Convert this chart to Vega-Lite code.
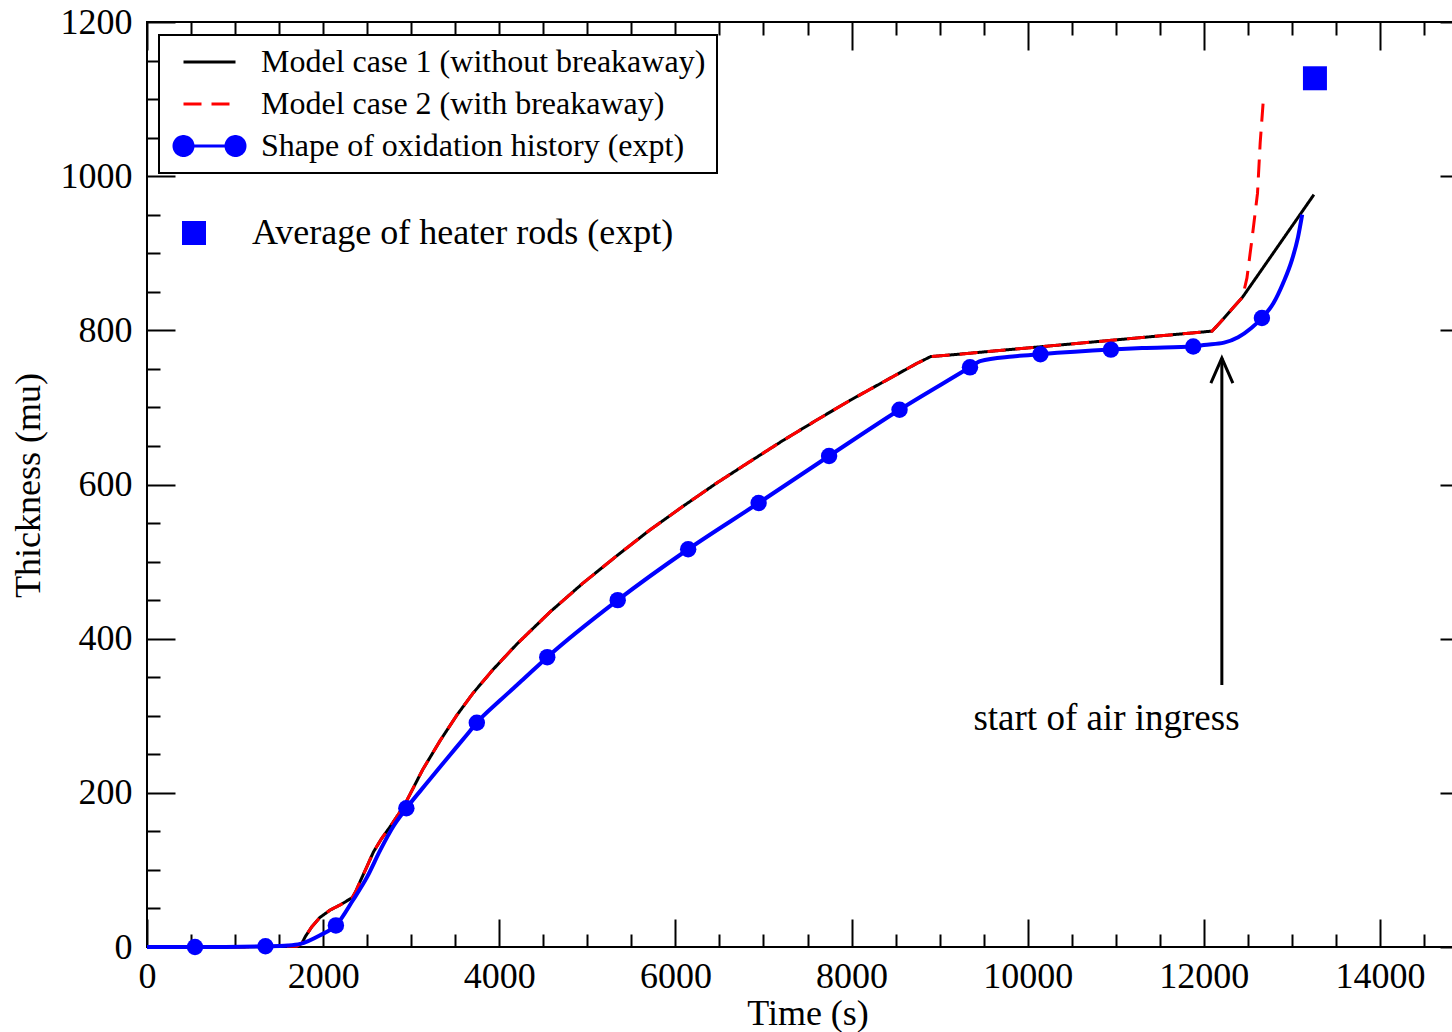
{
  "$schema": "https://vega.github.io/schema/vega-lite/v6.json",
  "width": 1321,
  "height": 925,
  "autosize": "none",
  "padding": {"left": 147, "top": 22, "right": -16, "bottom": 85},
  "background": "white",
  "config": {
    "view": {"stroke": "black", "strokeWidth": 2},
    "axis": {"domain": false, "grid": false, "tickColor": "black", "tickWidth": 2, "labelFont": "Liberation Serif", "labelFontSize": 36, "labelColor": "black", "titleFont": "Liberation Serif", "titleFontSize": 36, "titleFontWeight": "normal", "titleColor": "black", "labelFlush": false, "labelOverlap": false, "labelBound": false}
  },
  "datasets": {
    "model": [
      {"series": "Model case 1 (without breakaway)", "t": 0, "thk": 0},
      {"series": "Model case 1 (without breakaway)", "t": 1000, "thk": 0},
      {"series": "Model case 1 (without breakaway)", "t": 1700, "thk": 1},
      {"series": "Model case 1 (without breakaway)", "t": 1760, "thk": 5},
      {"series": "Model case 1 (without breakaway)", "t": 1800, "thk": 14},
      {"series": "Model case 1 (without breakaway)", "t": 1870, "thk": 26},
      {"series": "Model case 1 (without breakaway)", "t": 1960, "thk": 38},
      {"series": "Model case 1 (without breakaway)", "t": 2080, "thk": 48},
      {"series": "Model case 1 (without breakaway)", "t": 2200, "thk": 55},
      {"series": "Model case 1 (without breakaway)", "t": 2330, "thk": 64},
      {"series": "Model case 1 (without breakaway)", "t": 2370, "thk": 72},
      {"series": "Model case 1 (without breakaway)", "t": 2420, "thk": 85},
      {"series": "Model case 1 (without breakaway)", "t": 2500, "thk": 105},
      {"series": "Model case 1 (without breakaway)", "t": 2570, "thk": 123},
      {"series": "Model case 1 (without breakaway)", "t": 2660, "thk": 140},
      {"series": "Model case 1 (without breakaway)", "t": 2760, "thk": 156},
      {"series": "Model case 1 (without breakaway)", "t": 2860, "thk": 173},
      {"series": "Model case 1 (without breakaway)", "t": 2950, "thk": 190},
      {"series": "Model case 1 (without breakaway)", "t": 3130, "thk": 230},
      {"series": "Model case 1 (without breakaway)", "t": 3330, "thk": 268},
      {"series": "Model case 1 (without breakaway)", "t": 3520, "thk": 301},
      {"series": "Model case 1 (without breakaway)", "t": 3700, "thk": 329},
      {"series": "Model case 1 (without breakaway)", "t": 3930, "thk": 360},
      {"series": "Model case 1 (without breakaway)", "t": 4200, "thk": 393},
      {"series": "Model case 1 (without breakaway)", "t": 4580, "thk": 435},
      {"series": "Model case 1 (without breakaway)", "t": 4950, "thk": 472},
      {"series": "Model case 1 (without breakaway)", "t": 5340, "thk": 508},
      {"series": "Model case 1 (without breakaway)", "t": 5710, "thk": 541},
      {"series": "Model case 1 (without breakaway)", "t": 6090, "thk": 572},
      {"series": "Model case 1 (without breakaway)", "t": 6470, "thk": 602},
      {"series": "Model case 1 (without breakaway)", "t": 6850, "thk": 630},
      {"series": "Model case 1 (without breakaway)", "t": 7220, "thk": 657},
      {"series": "Model case 1 (without breakaway)", "t": 7610, "thk": 684},
      {"series": "Model case 1 (without breakaway)", "t": 7980, "thk": 709},
      {"series": "Model case 1 (without breakaway)", "t": 8360, "thk": 733},
      {"series": "Model case 1 (without breakaway)", "t": 8740, "thk": 757},
      {"series": "Model case 1 (without breakaway)", "t": 8900, "thk": 766},
      {"series": "Model case 1 (without breakaway)", "t": 9120, "thk": 768},
      {"series": "Model case 1 (without breakaway)", "t": 12095, "thk": 799},
      {"series": "Model case 1 (without breakaway)", "t": 12200, "thk": 812},
      {"series": "Model case 1 (without breakaway)", "t": 12330, "thk": 829},
      {"series": "Model case 1 (without breakaway)", "t": 12440, "thk": 843},
      {"series": "Model case 1 (without breakaway)", "t": 13250, "thk": 976},
      {"series": "Model case 2 (with breakaway)", "t": 0, "thk": 0},
      {"series": "Model case 2 (with breakaway)", "t": 1000, "thk": 0},
      {"series": "Model case 2 (with breakaway)", "t": 1700, "thk": 1},
      {"series": "Model case 2 (with breakaway)", "t": 1760, "thk": 5},
      {"series": "Model case 2 (with breakaway)", "t": 1800, "thk": 14},
      {"series": "Model case 2 (with breakaway)", "t": 1870, "thk": 26},
      {"series": "Model case 2 (with breakaway)", "t": 1960, "thk": 38},
      {"series": "Model case 2 (with breakaway)", "t": 2080, "thk": 48},
      {"series": "Model case 2 (with breakaway)", "t": 2200, "thk": 55},
      {"series": "Model case 2 (with breakaway)", "t": 2330, "thk": 64},
      {"series": "Model case 2 (with breakaway)", "t": 2370, "thk": 72},
      {"series": "Model case 2 (with breakaway)", "t": 2420, "thk": 85},
      {"series": "Model case 2 (with breakaway)", "t": 2500, "thk": 105},
      {"series": "Model case 2 (with breakaway)", "t": 2570, "thk": 123},
      {"series": "Model case 2 (with breakaway)", "t": 2660, "thk": 140},
      {"series": "Model case 2 (with breakaway)", "t": 2760, "thk": 156},
      {"series": "Model case 2 (with breakaway)", "t": 2860, "thk": 173},
      {"series": "Model case 2 (with breakaway)", "t": 2950, "thk": 190},
      {"series": "Model case 2 (with breakaway)", "t": 3130, "thk": 230},
      {"series": "Model case 2 (with breakaway)", "t": 3330, "thk": 268},
      {"series": "Model case 2 (with breakaway)", "t": 3520, "thk": 301},
      {"series": "Model case 2 (with breakaway)", "t": 3700, "thk": 329},
      {"series": "Model case 2 (with breakaway)", "t": 3930, "thk": 360},
      {"series": "Model case 2 (with breakaway)", "t": 4200, "thk": 393},
      {"series": "Model case 2 (with breakaway)", "t": 4580, "thk": 435},
      {"series": "Model case 2 (with breakaway)", "t": 4950, "thk": 472},
      {"series": "Model case 2 (with breakaway)", "t": 5340, "thk": 508},
      {"series": "Model case 2 (with breakaway)", "t": 5710, "thk": 541},
      {"series": "Model case 2 (with breakaway)", "t": 6090, "thk": 572},
      {"series": "Model case 2 (with breakaway)", "t": 6470, "thk": 602},
      {"series": "Model case 2 (with breakaway)", "t": 6850, "thk": 630},
      {"series": "Model case 2 (with breakaway)", "t": 7220, "thk": 657},
      {"series": "Model case 2 (with breakaway)", "t": 7610, "thk": 684},
      {"series": "Model case 2 (with breakaway)", "t": 7980, "thk": 709},
      {"series": "Model case 2 (with breakaway)", "t": 8360, "thk": 733},
      {"series": "Model case 2 (with breakaway)", "t": 8740, "thk": 757},
      {"series": "Model case 2 (with breakaway)", "t": 8900, "thk": 766},
      {"series": "Model case 2 (with breakaway)", "t": 9120, "thk": 768},
      {"series": "Model case 2 (with breakaway)", "t": 12095, "thk": 799},
      {"series": "Model case 2 (with breakaway)", "t": 12200, "thk": 812},
      {"series": "Model case 2 (with breakaway)", "t": 12330, "thk": 829},
      {"series": "Model case 2 (with breakaway)", "t": 12440, "thk": 843},
      {"series": "Model case 2 (with breakaway)", "t": 12490, "thk": 868},
      {"series": "Model case 2 (with breakaway)", "t": 12550, "thk": 921},
      {"series": "Model case 2 (with breakaway)", "t": 12610, "thk": 978},
      {"series": "Model case 2 (with breakaway)", "t": 12640, "thk": 1043},
      {"series": "Model case 2 (with breakaway)", "t": 12680, "thk": 1105}
    ],
    "expt": [
      {"series": "Shape of oxidation history (expt)", "t": 0, "thk": 0},
      {"series": "Shape of oxidation history (expt)", "t": 545, "thk": 0},
      {"series": "Shape of oxidation history (expt)", "t": 1345, "thk": 1},
      {"series": "Shape of oxidation history (expt)", "t": 1600, "thk": 2},
      {"series": "Shape of oxidation history (expt)", "t": 1740, "thk": 4},
      {"series": "Shape of oxidation history (expt)", "t": 1960, "thk": 15},
      {"series": "Shape of oxidation history (expt)", "t": 2145, "thk": 28},
      {"series": "Shape of oxidation history (expt)", "t": 2340, "thk": 61},
      {"series": "Shape of oxidation history (expt)", "t": 2500, "thk": 91},
      {"series": "Shape of oxidation history (expt)", "t": 2650, "thk": 126},
      {"series": "Shape of oxidation history (expt)", "t": 2800, "thk": 157},
      {"series": "Shape of oxidation history (expt)", "t": 2945, "thk": 180},
      {"series": "Shape of oxidation history (expt)", "t": 3180, "thk": 213},
      {"series": "Shape of oxidation history (expt)", "t": 3410, "thk": 245},
      {"series": "Shape of oxidation history (expt)", "t": 3630, "thk": 275},
      {"series": "Shape of oxidation history (expt)", "t": 3745, "thk": 291},
      {"series": "Shape of oxidation history (expt)", "t": 4010, "thk": 320},
      {"series": "Shape of oxidation history (expt)", "t": 4270, "thk": 347},
      {"series": "Shape of oxidation history (expt)", "t": 4545, "thk": 376},
      {"series": "Shape of oxidation history (expt)", "t": 5345, "thk": 450},
      {"series": "Shape of oxidation history (expt)", "t": 6145, "thk": 516},
      {"series": "Shape of oxidation history (expt)", "t": 6945, "thk": 576},
      {"series": "Shape of oxidation history (expt)", "t": 7745, "thk": 637},
      {"series": "Shape of oxidation history (expt)", "t": 8545, "thk": 697},
      {"series": "Shape of oxidation history (expt)", "t": 9345, "thk": 752},
      {"series": "Shape of oxidation history (expt)", "t": 9460, "thk": 760},
      {"series": "Shape of oxidation history (expt)", "t": 9830, "thk": 766},
      {"series": "Shape of oxidation history (expt)", "t": 10145, "thk": 769},
      {"series": "Shape of oxidation history (expt)", "t": 10945, "thk": 775},
      {"series": "Shape of oxidation history (expt)", "t": 11300, "thk": 777},
      {"series": "Shape of oxidation history (expt)", "t": 11880, "thk": 779},
      {"series": "Shape of oxidation history (expt)", "t": 12000, "thk": 781},
      {"series": "Shape of oxidation history (expt)", "t": 12230, "thk": 784},
      {"series": "Shape of oxidation history (expt)", "t": 12390, "thk": 791},
      {"series": "Shape of oxidation history (expt)", "t": 12540, "thk": 803},
      {"series": "Shape of oxidation history (expt)", "t": 12660, "thk": 816},
      {"series": "Shape of oxidation history (expt)", "t": 12790, "thk": 835},
      {"series": "Shape of oxidation history (expt)", "t": 12900, "thk": 861},
      {"series": "Shape of oxidation history (expt)", "t": 13000, "thk": 891},
      {"series": "Shape of oxidation history (expt)", "t": 13070, "thk": 921},
      {"series": "Shape of oxidation history (expt)", "t": 13117, "thk": 950}
    ],
    "markers": [
      {"t": 545, "thk": 0}, {"t": 1345, "thk": 1}, {"t": 2145, "thk": 28}, {"t": 2945, "thk": 180},
      {"t": 3745, "thk": 291}, {"t": 4545, "thk": 376}, {"t": 5345, "thk": 450}, {"t": 6145, "thk": 516},
      {"t": 6945, "thk": 576}, {"t": 7745, "thk": 637}, {"t": 8545, "thk": 697}, {"t": 9345, "thk": 752},
      {"t": 10145, "thk": 769}, {"t": 10945, "thk": 775}, {"t": 11880, "thk": 779}, {"t": 12660, "thk": 816}
    ],
    "rods": [{"kind": "Average of heater rods (expt)", "t": 13262, "thk": 1127}],
    "arrow": [{"t": 12205, "from": 340, "to": 764}],
    "note": [{"t": 10895, "thk": 281, "label": "start of air ingress"}]
  },
  "resolve": {"axis": {"x": "independent", "y": "independent"}},
  "layer": [
    {
      "data": {"name": "model"},
      "mark": {"type": "line", "strokeWidth": 3},
      "encoding": {
        "x": {"field": "t", "type": "quantitative", "scale": {"domain": [0, 15000], "nice": false, "zero": false},
          "axis": {"orient": "bottom", "values": [0, 2000, 4000, 6000, 8000, 10000, 12000, 14000], "format": "d", "tickSize": -28, "labelPadding": 68, "labelBaseline": "alphabetic", "title": "Time (s)", "titleBaseline": "alphabetic", "titleY": 77}},
        "y": {"field": "thk", "type": "quantitative", "scale": {"domain": [0, 1200], "nice": false, "zero": false},
          "axis": {"orient": "left", "values": [0, 200, 400, 600, 800, 1000, 1200], "format": "d", "tickSize": -28, "labelPadding": 43, "title": "Thickness (mu)", "titleAngle": 270, "titleX": -108, "titleY": 463, "titleBaseline": "alphabetic", "titleAlign": "center"}},
        "color": {"field": "series", "type": "nominal",
          "scale": {"domain": ["Model case 1 (without breakaway)", "Model case 2 (with breakaway)", "Shape of oxidation history (expt)"], "range": ["black", "red", "blue"]},
          "legend": {"orient": "none", "legendX": 12, "legendY": 13, "title": null, "padding": 11, "strokeColor": "black", "fillColor": "white", "labelFont": "Liberation Serif", "labelFontSize": 32, "labelColor": "black", "labelLimit": 1000, "symbolType": "stroke", "symbolSize": 2704, "symbolStrokeWidth": 3, "symbolOpacity": 1, "symbolOffset": 12, "labelOffset": 24, "rowPadding": 10, "clipHeight": 32,
            "encode": {"legend": {"update": {"strokeWidth": {"value": 2}}}, "symbols": {"update": {
              "shape": {"signal": "datum.value === 'Shape of oxidation history (expt)' ? 'M-1,0L1,0M-1.365,0A0.365,0.365,0,1,0,-0.635,0A0.365,0.365,0,1,0,-1.365,0ZM0.635,0A0.365,0.365,0,1,0,1.365,0A0.365,0.365,0,1,0,0.635,0Z' : 'stroke'"},
              "fill": {"signal": "datum.value === 'Shape of oxidation history (expt)' ? 'blue' : 'transparent'"}}}}}},
        "strokeDash": {"field": "series", "type": "nominal",
          "scale": {"domain": ["Model case 1 (without breakaway)", "Model case 2 (with breakaway)", "Shape of oxidation history (expt)"], "range": [[1, 0], [18, 10], [1, 0]]},
          "legend": {"orient": "none", "legendX": 12, "legendY": 13, "title": null, "padding": 11, "strokeColor": "black", "fillColor": "white", "labelFont": "Liberation Serif", "labelFontSize": 32, "labelColor": "black", "labelLimit": 1000, "symbolType": "stroke", "symbolSize": 2704, "symbolStrokeWidth": 3, "symbolOpacity": 1, "symbolOffset": 12, "labelOffset": 24, "rowPadding": 10, "clipHeight": 32,
            "encode": {"legend": {"update": {"strokeWidth": {"value": 2}}}, "symbols": {"update": {
              "shape": {"signal": "datum.value === 'Shape of oxidation history (expt)' ? 'M-1,0L1,0M-1.365,0A0.365,0.365,0,1,0,-0.635,0A0.365,0.365,0,1,0,-1.365,0ZM0.635,0A0.365,0.365,0,1,0,1.365,0A0.365,0.365,0,1,0,0.635,0Z' : 'stroke'"},
              "fill": {"signal": "datum.value === 'Shape of oxidation history (expt)' ? 'blue' : 'transparent'"}}}}}}
      }
    },
    {
      "data": {"name": "expt"},
      "mark": {"type": "line", "strokeWidth": 4, "interpolate": "monotone"},
      "encoding": {
        "x": {"field": "t", "type": "quantitative", "scale": {"domain": [0, 15000], "nice": false, "zero": false},
          "axis": {"orient": "bottom", "values": [500, 1000, 1500, 2500, 3000, 3500, 4500, 5000, 5500, 6500, 7000, 7500, 8500, 9000, 9500, 10500, 11000, 11500, 12500, 13000, 13500, 14500], "tickSize": -13, "labels": false, "title": null}},
        "y": {"field": "thk", "type": "quantitative", "scale": {"domain": [0, 1200], "nice": false, "zero": false},
          "axis": {"orient": "left", "values": [50, 100, 150, 250, 300, 350, 450, 500, 550, 650, 700, 750, 850, 900, 950, 1050, 1100, 1150], "tickSize": -13, "labels": false, "title": null}},
        "color": {"field": "series", "type": "nominal",
          "scale": {"domain": ["Model case 1 (without breakaway)", "Model case 2 (with breakaway)", "Shape of oxidation history (expt)"], "range": ["black", "red", "blue"]},
          "legend": {"orient": "none", "legendX": 12, "legendY": 13, "title": null, "padding": 11, "strokeColor": "black", "fillColor": "white", "labelFont": "Liberation Serif", "labelFontSize": 32, "labelColor": "black", "labelLimit": 1000, "symbolType": "stroke", "symbolSize": 2704, "symbolStrokeWidth": 3, "symbolOpacity": 1, "symbolOffset": 12, "labelOffset": 24, "rowPadding": 10, "clipHeight": 32,
            "encode": {"legend": {"update": {"strokeWidth": {"value": 2}}}, "symbols": {"update": {
              "shape": {"signal": "datum.value === 'Shape of oxidation history (expt)' ? 'M-1,0L1,0M-1.365,0A0.365,0.365,0,1,0,-0.635,0A0.365,0.365,0,1,0,-1.365,0ZM0.635,0A0.365,0.365,0,1,0,1.365,0A0.365,0.365,0,1,0,0.635,0Z' : 'stroke'"},
              "fill": {"signal": "datum.value === 'Shape of oxidation history (expt)' ? 'blue' : 'transparent'"}}}}}}
      }
    },
    {
      "data": {"name": "markers"},
      "mark": {"type": "point", "shape": "circle", "filled": true, "size": 270, "opacity": 1, "color": "blue"},
      "encoding": {
        "x": {"field": "t", "type": "quantitative", "scale": {"domain": [0, 15000], "nice": false, "zero": false},
          "axis": {"orient": "top", "values": [0, 2000, 4000, 6000, 8000, 10000, 12000, 14000], "tickSize": -28, "labels": false, "title": null}},
        "y": {"field": "thk", "type": "quantitative", "scale": {"domain": [0, 1200], "nice": false, "zero": false},
          "axis": {"orient": "right", "values": [0, 200, 400, 600, 800, 1000, 1200], "tickSize": -28, "labels": false, "title": null}}
      }
    },
    {
      "data": {"name": "rods"},
      "mark": {"type": "point", "filled": true, "size": 576, "opacity": 1, "color": "blue"},
      "encoding": {
        "x": {"field": "t", "type": "quantitative", "scale": {"domain": [0, 15000], "nice": false, "zero": false},
          "axis": {"orient": "top", "values": [500, 1000, 1500, 2500, 3000, 3500, 4500, 5000, 5500, 6500, 7000, 7500, 8500, 9000, 9500, 10500, 11000, 11500, 12500, 13000, 13500, 14500], "tickSize": -13, "labels": false, "title": null}},
        "y": {"field": "thk", "type": "quantitative", "scale": {"domain": [0, 1200], "nice": false, "zero": false},
          "axis": {"orient": "right", "values": [50, 100, 150, 250, 300, 350, 450, 500, 550, 650, 700, 750, 850, 900, 950, 1050, 1100, 1150], "tickSize": -13, "labels": false, "title": null}},
        "shape": {"field": "kind", "type": "nominal", "scale": {"domain": ["Average of heater rods (expt)"], "range": ["square"]},
          "legend": {"orient": "none", "legendX": 29, "legendY": 193, "title": null, "padding": 0, "labelFont": "Liberation Serif", "labelFontSize": 36, "labelColor": "black", "labelLimit": 1000, "symbolType": "square", "symbolSize": 576, "symbolFillColor": "blue", "symbolStrokeColor": "blue", "symbolStrokeWidth": 0, "symbolOpacity": 1, "symbolOffset": 0, "labelOffset": 40, "clipHeight": 36}}
      }
    },
    {
      "data": {"name": "arrow"},
      "mark": {"type": "rule", "strokeWidth": 3, "color": "black"},
      "encoding": {
        "x": {"field": "t", "type": "quantitative", "axis": null},
        "y": {"field": "from", "type": "quantitative", "axis": null},
        "y2": {"field": "to"}
      }
    },
    {
      "data": {"name": "arrow"},
      "mark": {"type": "point", "shape": "M-0.44,1L0,0L0.44,1", "filled": false, "size": 2500, "opacity": 1, "stroke": "black", "strokeWidth": 3},
      "encoding": {
        "x": {"field": "t", "type": "quantitative", "axis": null},
        "y": {"field": "to", "type": "quantitative", "axis": null}
      }
    },
    {
      "data": {"name": "note"},
      "mark": {"type": "text", "font": "Liberation Serif", "fontSize": 37, "align": "center", "baseline": "alphabetic", "color": "black"},
      "encoding": {
        "x": {"field": "t", "type": "quantitative", "axis": null},
        "y": {"field": "thk", "type": "quantitative", "axis": null},
        "text": {"field": "label"}
      }
    }
  ]
}
